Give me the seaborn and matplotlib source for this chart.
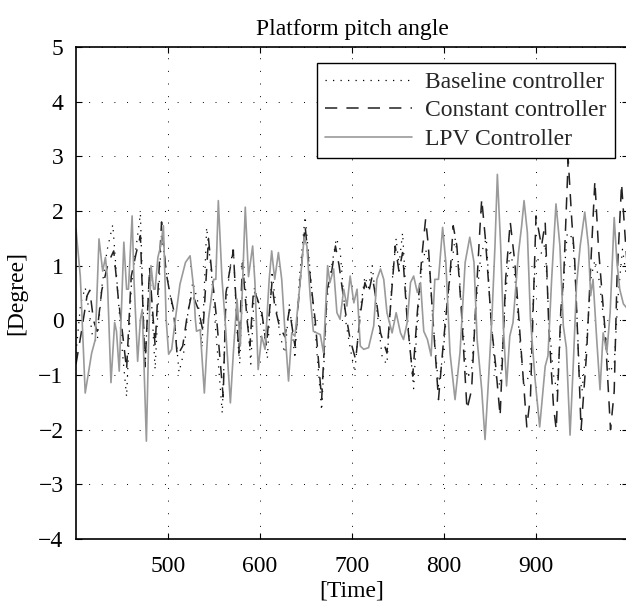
import numpy as np
import pandas as pd
import matplotlib
matplotlib.use("Agg")
import matplotlib.pyplot as plt
import seaborn as sns

# ---------------- data ----------------
title = "Platform pitch angle"
xlabel = "[Time]"
ylabel = "[Degree]"
series_names = ["Baseline controller", "Constant controller", "LPV Controller"]
xticks = [500, 600, 700, 800, 900]
yticks = [-4, -3, -2, -1, 0, 1, 2, 3, 4, 5]

baseline_t = [400, 405, 410, 414, 418, 423, 428, 434, 440, 445, 450, 455, 460, 465, 470,
              475, 480, 486, 493, 498, 503, 507, 512, 517, 522, 527, 533, 537, 542, 547,
              552, 559, 563, 567, 571, 575, 578, 582, 586, 590, 594, 598, 603, 608, 613,
              617, 622, 627, 632, 638, 643, 649, 654, 660, 667, 673, 678, 683, 687, 693,
              698, 703, 709, 714, 718, 722, 727, 733, 738, 743, 748, 751, 755, 760, 767,
              771, 776, 780, 784, 788, 794, 799, 806, 812, 816, 820, 825, 830, 835, 840,
              846, 851, 856, 861, 867, 872, 877, 882, 887, 893, 899, 905, 910, 914, 919,
              923, 929, 934, 940, 943, 947, 950, 955, 960, 964, 969, 975, 980, 985, 989,
              994, 1000]
baseline_y = [-0.6, 0.3, 0.6, 0.2, -0.3, -0.4, 0.6, 1.3, 1.75, 0.6, -0.5, -1.4, 0.6, 1.3, 1.95,
              -0.9, 1.0, -0.9, 1.6, 0.9, 0.4, 0.0, -0.95, -0.6, 0.2, 0.7, 0.3, -0.5, 1.7, 0.9,
              -0.2, -1.7, 0.3, 0.9, 1.35, -0.2, -0.8, 1.1, 0.2, -0.8, 0.6, 0.3, 0.0, -0.7, 0.9,
              0.3, -0.3, -0.6, 0.3, -0.7, 0.8, 1.9, 1.0, -0.2, -1.65, 0.4, 1.0, 1.5, 1.3, 0.0,
              -0.5, -0.95, 0.2, 0.8, 0.6, 1.0, 0.2, -0.7, -0.8, 0.6, 1.5, 1.0, 1.6, 0.1, -1.25,
              0.0, 1.0, 1.3, 1.0, 0.0, -1.2, -0.6, 0.7, 1.5, 1.0, 0.0, -1.05, -0.9, 0.3, 1.2,
              1.5, 0.0, -1.0, -1.2, 0.5, 1.3, 0.8, -0.3, -1.2, -1.0, 1.0, 1.2, 1.4, 0.0, -1.0,
              -1.3, 0.5, 1.6, 1.5, 0.7, -0.95, -1.3, -0.4, 0.8, 1.1, 0.7, -0.2, -0.95, -0.8, 0.4,
              1.3, 0.6]

constant_t = [400, 406, 412, 415, 419, 423, 428, 435, 441, 446, 451, 455, 460, 465, 470,
              475, 480, 486, 493, 498, 502, 506, 510, 516, 521, 526, 533, 538, 544, 548,
              553, 560, 563, 567, 571, 575, 577, 581, 586, 589, 593, 597, 602, 607, 613,
              616, 621, 627, 632, 638, 643, 649, 654, 660, 667, 673, 678, 682, 686, 693,
              698, 704, 709, 714, 718, 722, 727, 731, 738, 743, 747, 751, 755, 760, 766,
              771, 776, 780, 783, 787, 794, 799, 807, 810, 814, 819, 825, 830, 835, 839,
              841, 845, 852, 856, 861, 867, 872, 877, 883, 890, 894, 900, 906, 910, 914,
              919, 922, 927, 930, 935, 939, 942, 946, 949, 955, 960, 964, 968, 975, 981,
              985, 988, 993, 997, 1000]
constant_y = [-0.8, -0.2, 0.45, 0.55, 0.0, -0.2, 0.55, 1.05, 1.27, 0.4, -0.3, -0.9, 0.8, 1.2, 1.55,
              -0.85, 0.95, -0.47, 1.8, 0.87, 0.5, 0.2, -0.65, -0.47, 0.1, 0.5, 0.2, -0.2, 1.5, 0.8,
              0.0, -1.4, 0.5, 0.9, 1.27, 0.0, -0.6, 1.05, 0.0, -0.47, 0.57, 0.4, 0.14, -0.47, 0.69,
              0.26, -0.1, -0.3, 0.2, -0.47, 0.6, 1.73, 0.87, 0.0, -1.45, 0.57, 0.9, 1.36, 1.0, 0.14,
              -0.35, -0.72, 0.1, 0.69, 0.5, 0.81, 0.3, -0.23, -0.6, 0.5, 1.36, 0.9, 1.24, 0.0, -1.02,
              0.14, 1.18, 1.85, 1.36, 0.26, -1.45, -0.47, 0.94, 1.73, 1.36, 0.14, -1.63, -1.27, 0.45, 1.67,
              2.22, 1.49, -0.17, -0.8, -1.75, 0.75, 1.8, 1.06, -0.35, -1.95, -1.39, 1.91, 1.36, 1.79, -0.17,
              -1.57, -2.0, 0.2, 0.75, 2.95, 1.8, 1.12, -0.6, -2.0, -0.6, 1.18, 2.55, 1.3, -0.17, -2.0,
              -1.3, 0.75, 2.5, 1.5, 0.8]

lpv_t = [400, 404.7, 410, 417, 421, 425, 429, 432, 434, 438, 442, 444, 447, 452, 455,
         457, 461, 463, 467, 470, 472, 476.5, 479, 481.5, 484.4, 486, 489, 492, 495, 498,
         500.7, 504, 508, 513, 519, 524, 528, 529.7, 531, 535, 539.5, 544, 549.6, 552, 554.7,
         558.7, 562, 567.8, 571, 575, 578.6, 584, 587.5, 592, 594.5, 598, 601.8, 605.5, 610,
         612.7, 616, 620, 623.6, 627, 631, 634.5, 638, 643.6, 648, 651, 654.5, 658, 665.5,
         669, 673.5, 676, 680, 683.6, 687, 691, 694.5, 698, 702, 705.5, 709, 712.7, 718,
         723.6, 727, 731, 734.5, 738, 743.6, 748, 752.7, 756, 760, 763.6, 767, 771, 774.5,
         778, 782, 786, 790, 794, 798.5, 802, 806.5, 812, 817.4, 823, 828, 832.6, 836, 841,
         844.6, 848, 852, 855.4, 858, 861.6, 864.5, 868, 871.5, 875, 881, 884.4, 887, 890.6,
         894, 899, 904, 910, 913, 917, 921.7, 926, 929.7, 933, 937, 940.6, 944, 948, 953,
         957, 959.4, 962, 966, 969.6, 973, 977, 980.6, 985, 988, 991, 995, 1000]
lpv_y = [1.67, 0.8, -1.33, -0.6, -0.35, 1.49, 0.9, 1.15, 0.8, -1.14, -0.04, -0.2, -0.93, 1.43, 0.57,
         0.57, 1.91, 0.75, -0.75, 0.02, 0.2, -2.21, -0.35, 1.0, 0.57, 0.57, 1.15, 1.36, 1.73, 0.02,
         -0.62, -0.53, 0.02, 0.66, 1.06, 1.18, 0.57, 0.02, -0.2, -0.17, -1.33, 0.02, 0.75, 0.75, 2.19,
         0.75, 0.02, -1.51, -0.6, 0.39, -0.47, 2.07, 0.8, 1.36, 0.69, -0.9, -0.29, -0.53, 0.75,
         1.27, 0.75, 1.24, 0.75, -0.17, -1.11, -0.23, -0.29, 0.69, 1.52, 1.36, 0.45, -0.2, -0.26,
         -0.59, 1.0, 0.69, 0.94, 0.14, 0.02, 0.57, 0.26, 0.81, 0.32, 0.57, -0.47, -0.53, -0.5,
         -0.1, 0.75, 0.94, 0.75, 0.14, -0.23, 0.14, -0.23, -0.35, -0.04, 0.69, 0.81, 0.51, 0.69,
         -0.2, -0.35, -0.65, 0.75, 0.75, 1.7, 1.06, -0.59, -1.45, -0.59, 1.06, 1.52, 1.06, -0.35, -1.27,
         -2.18, -1.2, 0.02, 1.36, 2.67, 1.36, -0.1, -1.2, -0.29, -0.04, 1.24, 1.73, 2.19, 1.61,
         0.02, -1.08, -1.95, -0.84, -0.65, 0.75, 2.13, 1.36, -0.1, -0.5, -2.1, -0.78, 0.63, 1.36, 1.98,
         1.36, 0.45, 0.75, -0.35, -1.27, -0.23, -0.59, 0.14, 1.88, 1.06, 0.57, 0.3, 0.2]

# ---------------- style ----------------
sns.set_theme(style="white")
plt.rcParams["font.family"] = ["Liberation Serif", "DejaVu Serif"]
FS = 17

fig = plt.figure(figsize=(6.26, 6.03), dpi=100)
ax = fig.add_axes([76 / 626, 1 - 539 / 603, 552 / 626, 492 / 603])

df_base = pd.DataFrame({"t": baseline_t, "v": baseline_y})
df_const = pd.DataFrame({"t": constant_t, "v": constant_y})
df_lpv = pd.DataFrame({"t": lpv_t, "v": lpv_y})

sns.lineplot(data=df_base, x="t", y="v", ax=ax, color="black", lw=0.9,
             linestyle=(0, (1, 5)), estimator=None, sort=False, label=series_names[0])
sns.lineplot(data=df_const, x="t", y="v", ax=ax, color="#222222", lw=1.1,
             linestyle=(0, (8, 6)), estimator=None, sort=False, label=series_names[1])
sns.lineplot(data=df_lpv, x="t", y="v", ax=ax, color="#9a9a9a", lw=1.2,
             linestyle="-", estimator=None, sort=False, label=series_names[2])

ax.set_xlim(400, 1000)
ax.set_ylim(-4, 5)
ax.set_xticks(xticks)
ax.set_yticks(yticks)
ax.set_xticklabels([str(v) for v in xticks])
ax.set_yticklabels([("\u2212" + str(-v)) if v < 0 else str(v) for v in yticks])

ax.grid(True, color="black", linestyle=(0, (1, 12)), linewidth=0.7)
ax.set_axisbelow(True)

for s in ax.spines.values():
    s.set_color("black")
    s.set_linewidth(1.2)
    s.set_visible(True)

ax.tick_params(axis="both", which="major", direction="in", length=4, width=0.8,
               colors="black", labelsize=FS, top=True, right=True,
               bottom=True, left=True)
ax.tick_params(axis="x", pad=12)
ax.tick_params(axis="y", pad=9)

ax.set_title(title, fontsize=FS, pad=9, color="black")
ax.set_xlabel(xlabel, fontsize=FS, labelpad=3, color="black")
ax.set_ylabel(ylabel, fontsize=FS, labelpad=8, color="black")

leg = ax.legend(loc="upper right", bbox_to_anchor=((615 - 76) / 552, 1 - 16 / 492),
                borderaxespad=0, fontsize=FS, frameon=True, fancybox=False,
                framealpha=1, edgecolor="black", handlelength=3.7,
                handletextpad=0.55, labelspacing=0.3, borderpad=0.35)
leg.get_frame().set_linewidth(1.0)

fig.savefig("out.png", dpi=100, facecolor="white")
